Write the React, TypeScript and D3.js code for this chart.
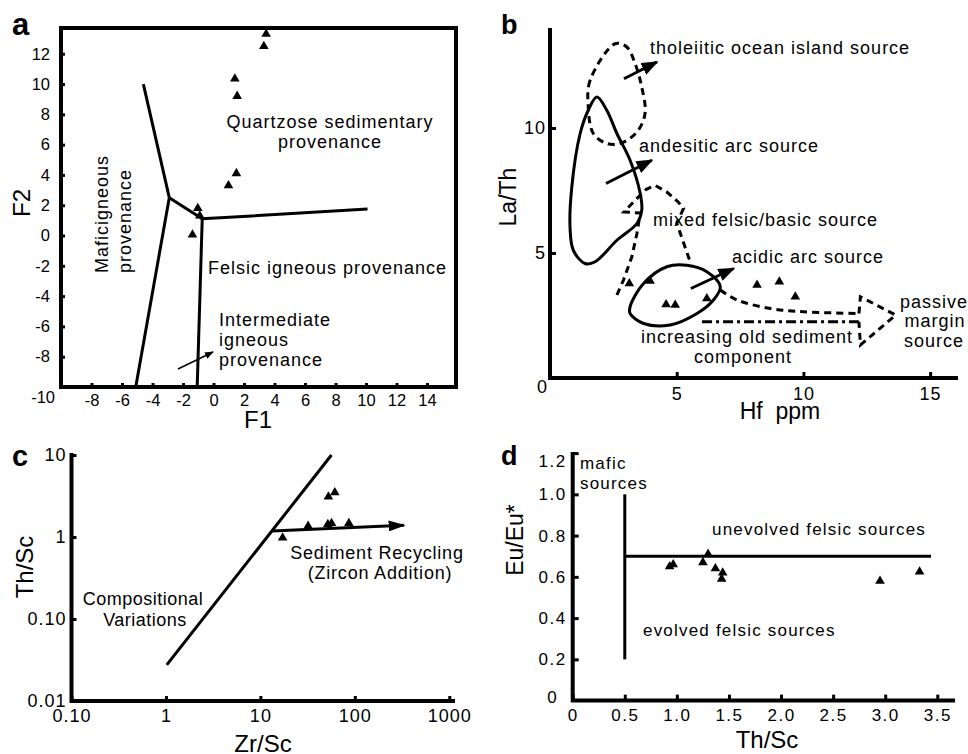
import React, { useEffect, useRef } from "react"
import * as d3 from "d3"

const FONT = "'Liberation Sans', Arial, Helvetica, sans-serif"

// a: F1 / F2 discriminant plot
const aF1 = [3.45, 3.3, 1.4, 1.55, 1.5, 0.98, -1.03, -0.9, -1.38]
const aF2 = [13.3, 12.5, 10.35, 9.2, 4.1, 3.3, 1.8, 1.3, 0.05]
const aFieldLines = [
  [[-4.6, 10], [-2.9, 2.5], [-5.1, -10]],
  [[-2.9, 2.5], [-0.74, 1.1], [10.1, 1.75]],
  [[-0.74, 1.1], [-1.07, -10]],
]
const aPointer = [[-2.33, -8.81], [-0.03, -7.69]]
const aXTicks = [-8, -6, -4, -2, 0, 2, 4, 6, 8, 10, 12, 14]
const aYTicks = [-8, -6, -4, -2, 0, 2, 4, 6, 8, 10, 12]

// b: La/Th vs Hf
const bHf = [3.13, 3.95, 4.58, 4.94, 6.19, 8.17, 9.05, 9.68]
const bLaTh = [3.78, 3.88, 2.94, 2.92, 3.18, 3.72, 3.85, 3.25]
const bTholeiitic = [[2.57, 13.37], [1.58, 11.9], [1.51, 10.84], [1.71, 9.78], [2.24, 9.38], [2.77, 9.38], [3.43, 9.84], [3.75, 10.58], [3.62, 11.64], [3.36, 12.57], [3.03, 13.24]]
const bAndesitic = [[1.85, 11.24], [2.24, 10.71], [2.64, 9.78], [3.16, 8.71], [3.56, 7.38], [3.62, 6.71], [3.43, 6.18], [2.64, 5.51], [1.78, 4.65], [1.38, 4.58], [0.92, 5.11], [0.79, 6.05], [0.86, 7.64], [1.19, 9.78], [1.51, 10.71]]
const bAcidic = [[3.16, 2.85], [3.69, 3.78], [4.61, 4.45], [5.4, 4.51], [6.19, 4.25], [6.72, 3.65], [6.45, 3.12], [5.8, 2.58], [4.74, 2.12], [3.69, 2.18], [3.16, 2.58]]
const bMixed = [[2.64, 3.32], [2.9, 3.92], [3.23, 4.85], [3.43, 5.78], [3.56, 6.6], [2.92, 6.64], [3.4, 7.15], [3.8, 7.55], [4.15, 7.7], [4.6, 7.45], [5.05, 7.05], [5.27, 6.78], [5.0, 6.2], [5.53, 4.65]]
const bPassiveUpper = [[6.72, 3.52], [7.38, 3.12], [8.7, 2.78], [10.0, 2.65], [12.19, 2.58]]
const bPassiveHead = [[12.19, 2.58], [12.25, 3.25], [13.64, 2.52], [12.25, 1.32], [12.19, 2.25]]
const bOldSediment = [[6.0, 2.25], [12.19, 2.25]]
const bArrows = [
  [[2.92, 11.97], [4.22, 12.64]],
  [[2.21, 7.78], [4.02, 8.71]],
  [[5.56, 3.58], [7.25, 4.38]],
]
const bXTicks = [5, 10, 15]
const bYTicks = [5, 10]

// c: Th/Sc vs Zr/Sc (log-log)
const cZrSc = [17.2, 32, 51.8, 56.6, 86.5, 52.5, 61.4]
const cThSc = [0.98, 1.36, 1.43, 1.47, 1.47, 3.1, 3.48]
const cTrend = [[1.02, 0.0276], [56.6, 10]]
const cRecycling = [[13.3, 1.18], [331, 1.39]]
const cXTicks = [0.1, 1, 10, 100, 1000]
const cXLabels = ["0.10", "1", "10", "100", "1000"]
const cYTicks = [0.01, 0.1, 1, 10]
const cYLabels = ["0.01", "0.10", "1", "10"]

// d: Eu/Eu* vs Th/Sc
const dThSc = [0.93, 0.965, 1.25, 1.3, 1.37, 1.44, 1.43, 2.95, 3.33]
const dEuEu = [0.65, 0.66, 0.67, 0.71, 0.64, 0.62, 0.59, 0.58, 0.625]
const dMaficLine = [[0.5, 1.0], [0.5, 0.2]]
const dFelsicLine = [[0.5, 0.7], [3.44, 0.7]]
const dXTicks = [0, 0.5, 1.0, 1.5, 2.0, 2.5, 3.0, 3.5]
const dYTicks = [0.2, 0.4, 0.6, 0.8, 1.0, 1.2]

export default function App() {
  const ref = useRef<SVGSVGElement>(null)

  useEffect(() => {
    const svg = d3.select(ref.current)
    svg.selectAll("*").remove()

    const defs = svg.append("defs")
    const marker = (id: string, w: number, h: number) => {
      defs.append("marker")
        .attr("id", id)
        .attr("viewBox", "0 0 10 10")
        .attr("refX", 9).attr("refY", 5)
        .attr("markerUnits", "userSpaceOnUse")
        .attr("markerWidth", w).attr("markerHeight", h)
        .attr("preserveAspectRatio", "none")
        .attr("orient", "auto")
        .append("path").attr("d", "M0,0 L10,5 L0,10 Z").attr("fill", "#000")
    }
    marker("headSmall", 9, 7)
    marker("headBig", 17, 13)
    marker("headC", 17, 11)

    const tri = d3.symbol().type(d3.symbolTriangle).size(40)

    const text = (g: any, x: number, y: number, s: string, size: number, opts: any = {}) => {
      const t = g.append("text")
        .attr("x", x).attr("y", y).attr("dy", "0.35em")
        .attr("font-size", size)
        .attr("font-family", FONT)
        .attr("fill", "#000")
        .attr("text-anchor", opts.anchor || "start")
        .attr("letter-spacing", opts.spacing || 0)
        .attr("font-weight", opts.bold ? "bold" : "normal")
        .text(s)
      if (opts.rotate) t.attr("transform", `rotate(-90, ${x}, ${y})`)
      return t
    }

    const styleAxis = (sel: any, size: number, spacing = 0) => {
      sel.attr("font-family", FONT).attr("font-size", size)
      sel.select(".domain").remove()
      sel.selectAll(".tick line").attr("stroke", "#000").attr("stroke-width", 3)
      sel.selectAll(".tick text").attr("fill", "#000").attr("letter-spacing", spacing)
    }

    // ---------- panel a ----------
    const ax = d3.scaleLinear().domain([-10, 15.9]).range([61, 456])
    const ay = d3.scaleLinear().domain([-10, 13.7]).range([387, 28])
    const ga = svg.append("g")

    ga.append("g")
      .attr("transform", `translate(0,${ay(-10)})`)
      .call(d3.axisBottom(ax).tickValues(aXTicks).tickSize(-4).tickPadding(7).tickFormat((d: any) => String(d)))
      .call((s: any) => styleAxis(s, 16.5))
    ga.append("g")
      .attr("transform", `translate(${ax(-10)},0)`)
      .call(d3.axisLeft(ay).tickValues(aYTicks).tickSize(-4).tickPadding(11).tickFormat((d: any) => String(d)))
      .call((s: any) => styleAxis(s, 16.5))
    text(ga, ax(-10) - 6, ay(-10) + 10, "-10", 16.5, { anchor: "end" })

    ga.append("rect")
      .attr("x", ax(-10)).attr("y", ay(13.7))
      .attr("width", ax(15.9) - ax(-10)).attr("height", ay(-10) - ay(13.7))
      .attr("fill", "none").attr("stroke", "#000").attr("stroke-width", 4)

    const aLine = d3.line<number[]>().x(d => ax(d[0])).y(d => ay(d[1]))
    ga.selectAll(".field").data(aFieldLines).join("path")
      .attr("d", aLine).attr("fill", "none").attr("stroke", "#000")
      .attr("stroke-width", 3).attr("stroke-linejoin", "round")
    ga.append("path").attr("d", aLine(aPointer)).attr("stroke", "#000")
      .attr("stroke-width", 1.5).attr("marker-end", "url(#headSmall)")

    ga.selectAll(".pt").data(aF1).join("path")
      .attr("transform", (d, i) => `translate(${ax(d)},${ay(aF2[i])})`)
      .attr("d", tri).attr("fill", "#000")

    text(ga, 330, 122, "Quartzose sedimentary", 18, { anchor: "middle", spacing: 1 })
    text(ga, 330, 142, "provenance", 18, { anchor: "middle", spacing: 1 })
    text(ga, 102, 273, "Maficigneous", 18, { rotate: true, spacing: 1 })
    text(ga, 125, 273, "provenance", 18, { rotate: true, spacing: 1 })
    text(ga, 208, 268, "Felsic igneous provenance", 18, { spacing: 1 })
    text(ga, 219, 320, "Intermediate", 18, { spacing: 1 })
    text(ga, 219, 340, "igneous", 18, { spacing: 1 })
    text(ga, 219, 360, "provenance", 18, { spacing: 1 })
    text(ga, 12, 24, "a", 31, { bold: true })
    text(ga, 22, 203, "F2", 24, { rotate: true, anchor: "middle" })
    text(ga, 258, 420, "F1", 24, { anchor: "middle" })

    // ---------- panel b ----------
    const bx = d3.scaleLinear().domain([0, 16.1]).range([550, 958])
    const by = d3.scaleLinear().domain([0, 14]).range([378, 28])
    const gb = svg.append("g")

    gb.append("g")
      .attr("transform", `translate(0,${by(0)})`)
      .call(d3.axisBottom(bx).tickValues(bXTicks).tickSize(-6).tickPadding(9))
      .call((s: any) => styleAxis(s, 18, 1))
    gb.append("g")
      .attr("transform", `translate(${bx(0)},0)`)
      .call(d3.axisLeft(by).tickValues(bYTicks).tickSize(-6).tickPadding(4))
      .call((s: any) => styleAxis(s, 18, 1))
    text(gb, bx(0) - 8, by(0) + 9, "0", 18, { anchor: "middle" })
    gb.append("path").attr("d", `M${bx(0)},${by(14)}V${by(0)}H${bx(16.1)}`)
      .attr("fill", "none").attr("stroke", "#000").attr("stroke-width", 4)

    const bLoop = d3.line<number[]>().x(d => bx(d[0])).y(d => by(d[1])).curve(d3.curveCatmullRomClosed.alpha(0.5))
    const bOpen = d3.line<number[]>().x(d => bx(d[0])).y(d => by(d[1])).curve(d3.curveCatmullRom.alpha(0.5))
    const bLin = d3.line<number[]>().x(d => bx(d[0])).y(d => by(d[1]))

    gb.append("path").attr("d", bLoop(bTholeiitic)).attr("fill", "none").attr("stroke", "#000")
      .attr("stroke-width", 3).attr("stroke-dasharray", "7,5")
    gb.append("path").attr("d", bLoop(bAndesitic)).attr("fill", "none").attr("stroke", "#000")
      .attr("stroke-width", 3)
    gb.append("path").attr("d", bLoop(bAcidic)).attr("fill", "none").attr("stroke", "#000")
      .attr("stroke-width", 3)
    gb.append("path").attr("d", bLin(bMixed)).attr("fill", "none").attr("stroke", "#000")
      .attr("stroke-width", 3).attr("stroke-dasharray", "7,5")
    gb.append("path").attr("d", bOpen(bPassiveUpper)).attr("fill", "none").attr("stroke", "#000")
      .attr("stroke-width", 3).attr("stroke-dasharray", "7,5")
    gb.append("path").attr("d", bLin(bPassiveHead)).attr("fill", "none").attr("stroke", "#000")
      .attr("stroke-width", 3).attr("stroke-dasharray", "7,5")
    gb.append("path").attr("d", bLin(bOldSediment)).attr("fill", "none").attr("stroke", "#000")
      .attr("stroke-width", 3).attr("stroke-dasharray", "10,4,3,4")

    gb.selectAll(".arr").data(bArrows).join("path")
      .attr("d", bLin).attr("stroke", "#000").attr("stroke-width", 3)
      .attr("marker-end", "url(#headBig)")

    gb.selectAll(".pt").data(bHf).join("path")
      .attr("transform", (d, i) => `translate(${bx(d)},${by(bLaTh[i])})`)
      .attr("d", tri).attr("fill", "#000")

    text(gb, 650, 48, "tholeiitic ocean island source", 18, { spacing: 1 })
    text(gb, 639, 146, "andesitic arc source", 18, { spacing: 1 })
    text(gb, 653, 220, "mixed felsic/basic source", 18, { spacing: 1 })
    text(gb, 732, 257, "acidic arc source", 18, { spacing: 1 })
    text(gb, 747, 337, "increasing old sediment", 18, { anchor: "middle", spacing: 1 })
    text(gb, 743, 357, "component", 18, { anchor: "middle", spacing: 1 })
    text(gb, 934, 302, "passive", 18, { anchor: "middle", spacing: 1 })
    text(gb, 935, 321, "margin", 18, { anchor: "middle", spacing: 1 })
    text(gb, 934, 341, "source", 18, { anchor: "middle", spacing: 1 })
    text(gb, 501, 25, "b", 27, { bold: true })
    text(gb, 508, 197, "La/Th", 23, { rotate: true, anchor: "middle" })
    text(gb, 780, 411, "Hf  ppm", 23, { anchor: "middle" }).style("white-space", "pre")

    // ---------- panel c ----------
    const cx = d3.scaleLog().domain([0.1, 1150]).range([71.5, 455])
    const cy = d3.scaleLog().domain([0.01, 10]).range([701, 455])
    const gc = svg.append("g")

    gc.append("g")
      .attr("transform", `translate(0,${cy(0.01)})`)
      .call(d3.axisBottom(cx).tickValues(cXTicks).tickSize(-5).tickPadding(8).tickFormat((d, i) => cXLabels[i]))
      .call((s: any) => styleAxis(s, 18, 1))
    gc.append("g")
      .attr("transform", `translate(${cx(0.1)},0)`)
      .call(d3.axisLeft(cy).tickValues(cYTicks).tickSize(-5).tickPadding(5).tickFormat((d, i) => cYLabels[i]))
      .call((s: any) => styleAxis(s, 18, 1))
    gc.append("path").attr("d", `M${cx(0.1)},${cy(10) - 2}V${cy(0.01)}H${cx(1150)}`)
      .attr("fill", "none").attr("stroke", "#000").attr("stroke-width", 4)

    const cLine = d3.line<number[]>().x(d => cx(d[0])).y(d => cy(d[1]))
    gc.append("path").attr("d", cLine(cTrend)).attr("stroke", "#000").attr("stroke-width", 3)
    gc.append("path").attr("d", cLine(cRecycling)).attr("stroke", "#000").attr("stroke-width", 3)
      .attr("marker-end", "url(#headC)")

    gc.selectAll(".pt").data(cZrSc).join("path")
      .attr("transform", (d, i) => `translate(${cx(d)},${cy(cThSc[i])})`)
      .attr("d", tri).attr("fill", "#000")

    text(gc, 143, 599, "Compositional", 18, { anchor: "middle", spacing: 0.5 })
    text(gc, 145, 620, "Variations", 18, { anchor: "middle", spacing: 0.5 })
    text(gc, 377, 553, "Sediment Recycling", 18, { anchor: "middle", spacing: 0.8 })
    text(gc, 380, 573, "(Zircon Addition)", 18, { anchor: "middle", spacing: 0.8 })
    text(gc, 12, 456, "c", 29, { bold: true })
    text(gc, 25, 567, "Th/Sc", 24, { rotate: true, anchor: "middle" })
    text(gc, 263, 744, "Zr/Sc", 24, { anchor: "middle" })

    // ---------- panel d ----------
    const dx = d3.scaleLinear().domain([0, 3.67]).range([572.7, 955])
    const dy = d3.scaleLinear().domain([0, 1.2]).range([700.6, 453.1])
    const gd = svg.append("g")

    gd.append("g")
      .attr("transform", `translate(0,${dy(0)})`)
      .call(d3.axisBottom(dx).tickValues(dXTicks).tickSize(-6).tickPadding(8)
        .tickFormat((d: any) => (d === 0 ? "0" : d.toFixed(1))))
      .call((s: any) => styleAxis(s, 17, 1.5))
    const dYAxis = gd.append("g")
      .attr("transform", `translate(${dx(0)},0)`)
      .call(d3.axisLeft(dy).tickValues(dYTicks).tickSize(-6).tickPadding(6)
        .tickFormat((d: any) => d.toFixed(1)))
      .call((s: any) => styleAxis(s, 17, 1.5))
    // the top label sits a little below its tick in the source figure
    dYAxis.selectAll(".tick text").filter((d: any) => d === 1.2).attr("y", 8)
    text(gd, 552, 697, "0", 17, { anchor: "middle" })
    gd.append("path").attr("d", `M${dx(0)},${dy(1.2) - 1}V${dy(0)}H${dx(3.67)}`)
      .attr("fill", "none").attr("stroke", "#000").attr("stroke-width", 4)

    const dLine = d3.line<number[]>().x(d => dx(d[0])).y(d => dy(d[1]))
    gd.selectAll(".bound").data([dMaficLine, dFelsicLine]).join("path")
      .attr("d", dLine).attr("stroke", "#000").attr("stroke-width", 3)

    gd.selectAll(".pt").data(dThSc).join("path")
      .attr("transform", (d, i) => `translate(${dx(d)},${dy(dEuEu[i])})`)
      .attr("d", tri).attr("fill", "#000")

    text(gd, 580, 463, "mafic", 17, { spacing: 1.2 })
    text(gd, 580, 483, "sources", 17, { spacing: 1.2 })
    text(gd, 712, 529, "unevolved felsic sources", 17, { spacing: 1.2 })
    text(gd, 643, 630, "evolved felsic sources", 17, { spacing: 1.2 })
    text(gd, 501, 456, "d", 27, { bold: true })
    text(gd, 515, 540, "Eu/Eu*", 23, { rotate: true, anchor: "middle" })
    text(gd, 767, 740, "Th/Sc", 24, { anchor: "middle" })
  }, [])

  return (
    <svg
      ref={ref}
      width={968}
      height={754}
      style={{ position: "absolute", left: 0, top: 0, background: "#fff" }}
    />
  )
}
